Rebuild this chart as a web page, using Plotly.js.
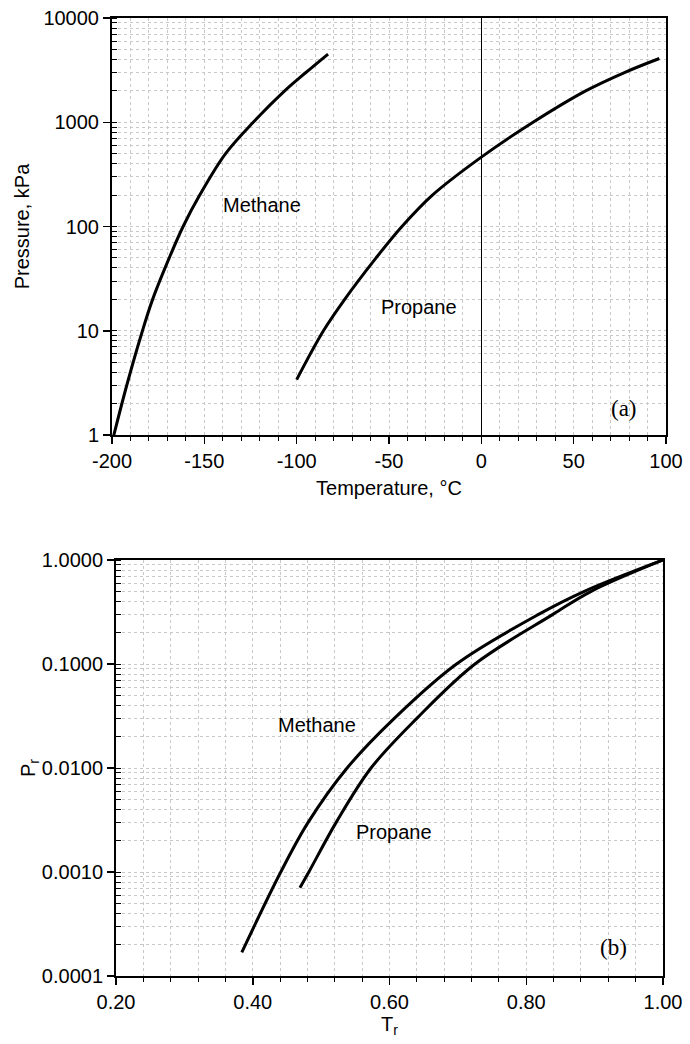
<!DOCTYPE html>
<html>
<head>
<meta charset="utf-8">
<script src="https://cdn.plot.ly/plotly-3.0.1.min.js"></script>
<style>html,body{margin:0;padding:0;background:#fff;}#chart{width:690px;height:1044px;}</style>
</head>
<body>
<div id="chart"></div>
<script>
// (a) vapour pressure vs temperature
const methaneT = [-200, -192, -183.5, -178, -169, -161.5, -152.5, -138.5, -123.5, -106.5, -95, -83];
const methaneP = [0.85, 3, 10, 20, 50, 100, 200, 500, 1000, 2000, 3000, 4510];
const propaneT = [-100, -85.5, -74, -57, -43, -26.5, 0, 28, 56.5, 77.5, 96.4];
const propaneP = [3.4, 10, 20, 50, 100, 200, 463, 1000, 2000, 3000, 4090];
// (b) reduced coordinates
const methaneTr = [0.384, 0.441, 0.481, 0.538, 0.607, 0.698, 0.818, 0.885, 1.0];
const methanePr = [0.000169, 0.001, 0.003, 0.01, 0.03, 0.1, 0.3, 0.5, 1.0];
const propaneTr = [0.469, 0.482, 0.522, 0.573, 0.64, 0.725, 0.839, 0.895, 1.0];
const propanePr = [0.000707, 0.001, 0.003, 0.01, 0.03, 0.1, 0.3, 0.5, 1.0];
// tick labels
const topXTicks = [-200, -150, -100, -50, 0, 50, 100];
const topXText = ['-200', '-150', '-100', '-50', '0', '50', '100'];
const topYTicks = [1, 10, 100, 1000, 10000];
const topYText = ['1', '10', '100', '1000', '10000'];
const botYTicks = [0.0001, 0.001, 0.01, 0.1, 1];
const botYText = ['0.0001', '0.0010', '0.0100', '0.1000', '1.0000'];
const botXTicks = [0.2, 0.4, 0.6, 0.8, 1.0];
const botXText = ['0.20', '0.40', '0.60', '0.80', '1.00'];

const FONT = 'Liberation Sans, Arial, Helvetica, sans-serif';
const SERIF = 'Liberation Serif, Times New Roman, serif';
const lineStyle = {color: '#000', width: 3, shape: 'spline', smoothing: 1.0};

const traces = [
  {x: methaneT, y: methaneP, xaxis: 'x', yaxis: 'y', mode: 'lines', line: lineStyle, name: 'Methane'},
  {x: propaneT, y: propaneP, xaxis: 'x', yaxis: 'y', mode: 'lines', line: lineStyle, name: 'Propane'},
  {x: methaneTr, y: methanePr, xaxis: 'x2', yaxis: 'y2', mode: 'lines', line: lineStyle, name: 'Methane'},
  {x: propaneTr, y: propanePr, xaxis: 'x2', yaxis: 'y2', mode: 'lines', line: lineStyle, name: 'Propane'}
];

const gridCol = '#c8c8c8';
const TICK = 20, TITLE = 20, LABEL = 20;
const common = {
  showline: true, linecolor: '#000', linewidth: 2, mirror: true,
  ticks: 'outside', ticklen: 7, tickwidth: 1.5, tickcolor: '#000',
  showgrid: true, gridcolor: gridCol, gridwidth: 1, griddash: 'dot',
  zeroline: false, automargin: false,
  tickfont: {family: FONT, size: TICK, color: '#000'}
};
const minorX = {ticks: 'outside', ticklen: 4, tickwidth: 1, tickcolor: '#000', showgrid: true, gridcolor: gridCol, gridwidth: 1, griddash: 'dot'};
const minorY = {ticks: 'inside', ticklen: 5, tickwidth: 1, tickcolor: '#000', dtick: 'D1', showgrid: true, gridcolor: gridCol, gridwidth: 1, griddash: 'dot'};

const layout = {
  width: 690, height: 1044,
  margin: {l: 0, r: 0, t: 0, b: 0},
  paper_bgcolor: '#fff', plot_bgcolor: '#fff',
  showlegend: false,
  font: {family: FONT, size: TICK, color: '#000'},
  xaxis: Object.assign({}, common, {
    domain: [112/690, 666/690], anchor: 'y',
    range: [-200, 100], tickvals: topXTicks, ticktext: topXText,
    zeroline: true, zerolinecolor: '#000', zerolinewidth: 1.5,
    minor: Object.assign({}, minorX, {dtick: 10, tick0: 0}),
    title: {text: 'Temperature, °C', font: {family: FONT, size: TITLE}, standoff: 10}
  }),
  yaxis: Object.assign({}, common, {
    domain: [1 - 435/1044, 1 - 18/1044], anchor: 'x',
    type: 'log', range: [0, 4],
    tickvals: topYTicks, ticktext: topYText,
    minor: minorY,
    title: {text: 'Pressure, kPa', font: {family: FONT, size: TITLE}, standoff: 8}
  }),
  xaxis2: Object.assign({}, common, {
    domain: [116/690, 663/690], anchor: 'y2',
    range: [0.2, 1.0], tickvals: botXTicks, ticktext: botXText,
    minor: Object.assign({}, minorX, {dtick: 0.04, tick0: 0.2}),
    title: {text: 'T<sub>r</sub>', font: {family: FONT, size: TITLE}, standoff: 4}
  }),
  yaxis2: Object.assign({}, common, {
    domain: [1 - 976/1044, 1 - 560/1044], anchor: 'x2',
    type: 'log', range: [-4, 0],
    tickvals: botYTicks, ticktext: botYText,
    minor: minorY,
    title: {text: 'P<sub>r</sub>', font: {family: FONT, size: TITLE}, standoff: 0}
  }),
  annotations: [
    {xref: 'x', yref: 'y', x: -119, y: Math.log10(162), text: 'Methane', showarrow: false, font: {family: FONT, size: LABEL}},
    {xref: 'x', yref: 'y', x: -34, y: Math.log10(17), text: 'Propane', showarrow: false, font: {family: FONT, size: LABEL}},
    {xref: 'x', yref: 'y', x: 77, y: Math.log10(1.78), text: '(a)', showarrow: false, font: {family: SERIF, size: 23}},
    {xref: 'x2', yref: 'y2', x: 0.494, y: Math.log10(0.0259), text: 'Methane', showarrow: false, font: {family: FONT, size: LABEL}},
    {xref: 'x2', yref: 'y2', x: 0.607, y: Math.log10(0.00243), text: 'Propane', showarrow: false, font: {family: FONT, size: LABEL}},
    {xref: 'x2', yref: 'y2', x: 0.927, y: Math.log10(0.00019), text: '(b)', showarrow: false, font: {family: SERIF, size: 23}}
  ]
};

Plotly.newPlot('chart', traces, layout, {displayModeBar: false, staticPlot: true});
</script>
</body>
</html>
